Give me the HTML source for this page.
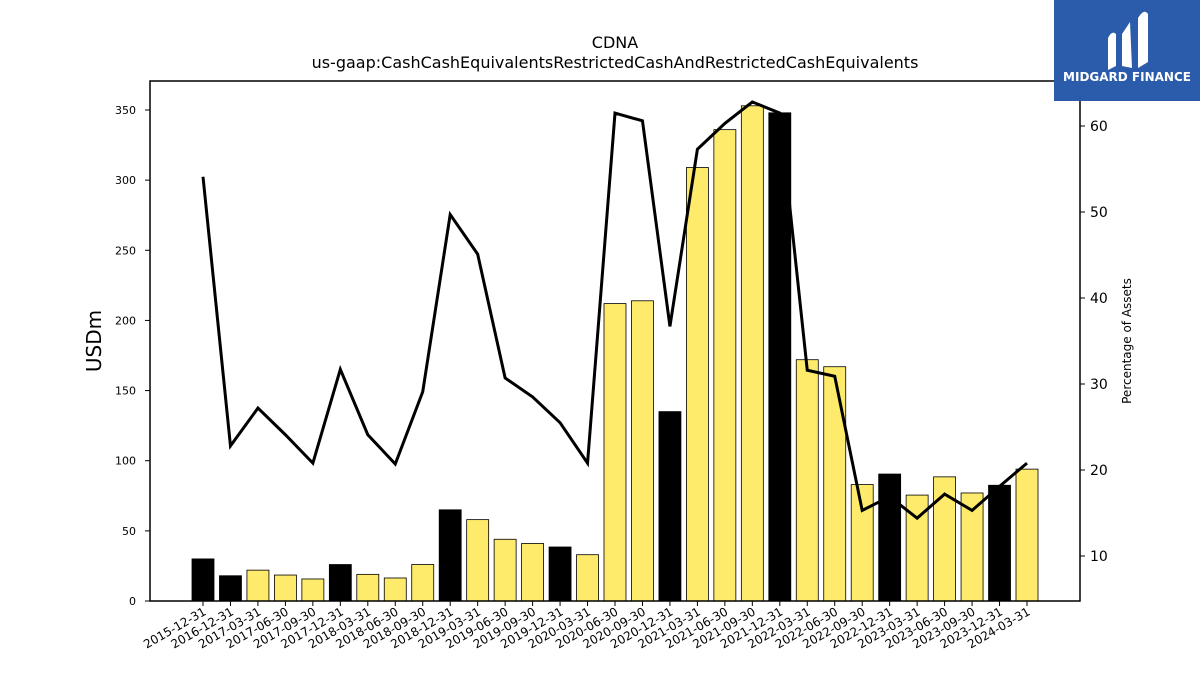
<!DOCTYPE html>
<html><head><meta charset="utf-8"><style>
body{margin:0;background:#fff;}
svg text{font-family:"DejaVu Sans","Liberation Sans",sans-serif;}
</style></head><body>
<svg width="1200" height="675" xmlns="http://www.w3.org/2000/svg">
<rect width="1200" height="675" fill="#fff"/>
<text x="615" y="48" font-size="16" text-anchor="middle">CDNA</text>
<text x="615" y="68" font-size="16" text-anchor="middle">us-gaap:CashCashEquivalentsRestrictedCashAndRestrictedCashEquivalents</text>
<g id="bars"></g><g id="line"></g><g id="axes"></g>
<rect x="150" y="81" width="930" height="520" fill="none" stroke="#000" stroke-width="1.5"/>
<text transform="translate(101,341) rotate(-90)" font-size="20" text-anchor="middle">USDm</text>
<text transform="translate(1131,341) rotate(-90)" font-size="12" text-anchor="middle">Percentage of Assets</text>
<g>
<rect x="1054" y="0" width="146" height="101" fill="#2b5bab"/>
<path d="M1108 70 L1108 38 Q1112 30 1116 34 L1116 66 Z M1122 66 L1122 34 L1130 22 L1132 68 Z M1138 68 L1138 18 Q1144 8 1148 14 L1148 62 Z" fill="#fff"/>
<text x="1127" y="81" font-size="12" font-weight="bold" fill="#fff" text-anchor="middle">MIDGARD FINANCE</text>
</g>
</svg>
<script>
const categories=["2015-12-31","2016-12-31","2017-03-31","2017-06-30","2017-09-30","2017-12-31","2018-03-31","2018-06-30","2018-09-30","2018-12-31","2019-03-31","2019-06-30","2019-09-30","2019-12-31","2020-03-31","2020-06-30","2020-09-30","2020-12-31","2021-03-31","2021-06-30","2021-09-30","2021-12-31","2022-03-31","2022-06-30","2022-09-30","2022-12-31","2023-03-31","2023-06-30","2023-09-30","2023-12-31","2024-03-31"];
const cashValues=[30,18,22,18.5,15.7,26,19,16.4,26,65,58,44,41,38.5,33,212,214,135,309,336,353,348,172,167,83,90.5,75.5,88.5,77,82.5,94];
const pctAssets=[54.1,22.8,27.2,24.1,20.8,31.7,24.1,20.7,29.1,49.7,45.1,30.7,28.5,25.5,20.8,61.5,60.6,36.7,57.3,60.3,62.8,61.5,31.6,30.9,15.3,16.9,14.4,17.2,15.3,18.1,20.8];
const yTicks=[0,50,100,150,200,250,300,350];
const y2Ticks=[10,20,30,40,50,60];
const NS="http://www.w3.org/2000/svg";
const xPos=i=>203+i*(1027-203)/(categories.length-1);
const yL=v=>601-v*(601-110)/350;
const yR=v=>556-(v-10)*8.6;
function mk(t,a,p){const e=document.createElementNS(NS,t);for(const k in a)e.setAttribute(k,a[k]);p.appendChild(e);return e;}
const bars=document.getElementById('bars'),line=document.getElementById('line'),axes=document.getElementById('axes');
categories.forEach((c,i)=>{
  const annual=c.endsWith("12-31");
  const b=mk('rect',{x:xPos(i)-11,y:yL(cashValues[i]),width:22,height:601-yL(cashValues[i]),fill:annual?'#000':'#ffeb6b',stroke:'#000','stroke-width':0.8},bars);
  
  
  mk('line',{x1:xPos(i),x2:xPos(i),y1:601,y2:606,stroke:'#000'},axes);
  const t=mk('text',{transform:`translate(${xPos(i)+4},${614}) rotate(-30)`,'font-size':12,'text-anchor':'end'},axes);
  t.textContent=c;
  
  
});
const p=mk('polyline',{points:pctAssets.map((v,i)=>xPos(i)+','+yR(v)).join(' '),fill:'none',stroke:'#000','stroke-width':3},line);


yTicks.forEach(v=>{
  mk('line',{x1:145,x2:150,y1:yL(v),y2:yL(v),stroke:'#000'},axes);
  const t=mk('text',{x:136,y:yL(v)+4,'font-size':11,'text-anchor':'end'},axes);
  t.textContent=v;
  
  
});
y2Ticks.forEach(v=>{
  mk('line',{x1:1080,x2:1085,y1:yR(v),y2:yR(v),stroke:'#000'},axes);
  const t=mk('text',{x:1090,y:yR(v)+5,'font-size':14},axes);
  t.textContent=v;
  
  
});
</script>
</body></html>
